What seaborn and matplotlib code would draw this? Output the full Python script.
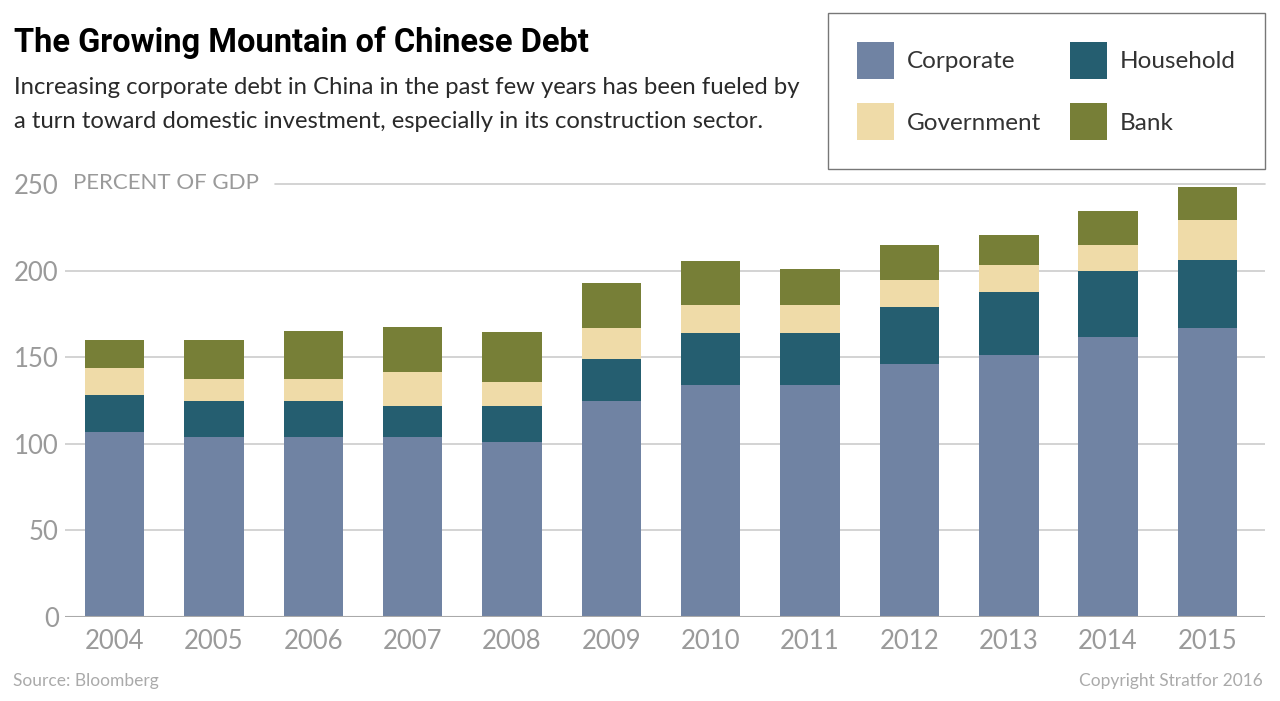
import numpy as np
import pandas as pd
import matplotlib as mpl
mpl.use('Agg')
import matplotlib.pyplot as plt
from matplotlib.patches import Patch
import seaborn as sns

# ============================================ #
# data (percent of GDP)
# ============================================ #

years = ['2004', '2005', '2006', '2007', '2008', '2009',
         '2010', '2011', '2012', '2013', '2014', '2015']
corporate = [107, 104, 104, 104, 101, 124.5, 134, 134, 146, 151.5, 161.5, 167]
household = [21, 21, 21, 18, 21, 24.5, 30, 30, 33, 36, 38.5, 39]
government = [16, 12.5, 12.5, 19.5, 13.5, 18, 16, 16, 15.5, 15.5, 15, 23.5]
bank = [16, 22.5, 27.5, 26, 29, 26, 25.5, 21, 20.5, 17.5, 19.5, 18.5]

series = ['Corporate', 'Household', 'Government', 'Bank']
colors = ['#7083a3', '#255e70', '#efdba8', '#777f37']

df = pd.DataFrame({'year': years, 'Corporate': corporate, 'Household': household,
                   'Government': government, 'Bank': bank})

# ============================================ #
# style
# ============================================ #

sns.set_theme(style='white')
plt.rcParams['font.family'] = ['Lato', 'DejaVu Sans']
fam = ['Lato', 'DejaVu Sans']

fig = plt.figure(figsize=(12.8, 7.01), dpi=100)
ax = fig.add_axes([65 / 1280, 1 - 617 / 701, 1200 / 1280, 433 / 701])

# stacked bars, one seaborn call per layer
bottom = np.zeros(len(years))
for name, col in zip(series, colors):
    sns.barplot(data=df, x='year', y=name, color=col, bottom=bottom,
                width=0.6, saturation=1, linewidth=0, ax=ax, zorder=3)
    bottom = bottom + df[name].values

ax.set_ylim(0, 250)
ax.set_xlim(-0.5, 11.58)
ax.set_xlabel('')
ax.set_ylabel('')
sns.despine(ax=ax, left=True, bottom=True, top=True, right=True)

# gridlines (250 line starts after the unit label)
for v in [50, 100, 150, 200]:
    ax.axhline(v, color='#cccccc', lw=1.2, zorder=1)
ax.axhline(0, color='#aaaaaa', lw=1.5, zorder=4)
ax.axhline(250, xmin=(275 - 65) / 1200, xmax=1, color='#cccccc', lw=1.2,
           zorder=1, clip_on=False)

ax.set_yticks([0, 50, 100, 150, 200, 250])
ax.set_yticklabels(['0', '50', '100', '150', '200', '250'], color='#9a9a9a',
                   fontsize=18.5, family=fam)
ax.set_xticks(range(len(years)))
ax.set_xticklabels(years, color='#9a9a9a', fontsize=18.5, family=fam)
ax.tick_params(axis='y', length=0, pad=4.5)
ax.tick_params(axis='x', length=0, pad=8.5)

ax.text(73 / 1280, 1 - 183 / 701, 'PERCENT OF GDP', transform=fig.transFigure,
        ha='left', va='center', color='#9a9a9a', fontsize=16, family=fam)

# ============================================ #
# title, subtitle, notes
# ============================================ #

fig.text(14 / 1280, 1 - 43 / 701, 'The Growing Mountain of Chinese Debt',
         ha='left', va='center', fontsize=23.5, fontweight='bold', color='black',
         family=['Roboto', 'DejaVu Sans'])
fig.text(14 / 1280, 1 - 87 / 701,
         'Increasing corporate debt in China in the past few years has been fueled by',
         ha='left', va='center', fontsize=17.2, color='#2a2a2a', family=fam)
fig.text(14 / 1280, 1 - 122 / 701,
         'a turn toward domestic investment, especially in its construction sector.',
         ha='left', va='center', fontsize=17.2, color='#2a2a2a', family=fam)

fig.text(13 / 1280, 1 - 681 / 701, 'Source: Bloomberg', ha='left', va='center',
         fontsize=12.5, color='#aaaaaa', family=fam)
fig.text(1263 / 1280, 1 - 681 / 701, 'Copyright Stratfor 2016', ha='right',
         va='center', fontsize=12.5, color='#aaaaaa', family=fam)

# legend box
handles = [Patch(facecolor=c, edgecolor='none', label=s) for s, c in zip(series, colors)]
order = [0, 2, 1, 3]
leg = fig.legend([handles[i] for i in order], [series[i] for i in order],
                 loc='upper right', bbox_to_anchor=(1265 / 1280, 1 - 13 / 701),
                 ncol=2, frameon=True, fancybox=False, edgecolor='#555555',
                 prop=dict(family=fam, size=17.5),
                 handlelength=1.52, handleheight=1.96, labelspacing=1.0,
                 columnspacing=1.2, handletextpad=0.53, borderpad=1.2,
                 borderaxespad=0)
leg.get_frame().set_linewidth(1)
for t in leg.get_texts():
    t.set_color('#333333')

fig.savefig('out.png', dpi=100)
